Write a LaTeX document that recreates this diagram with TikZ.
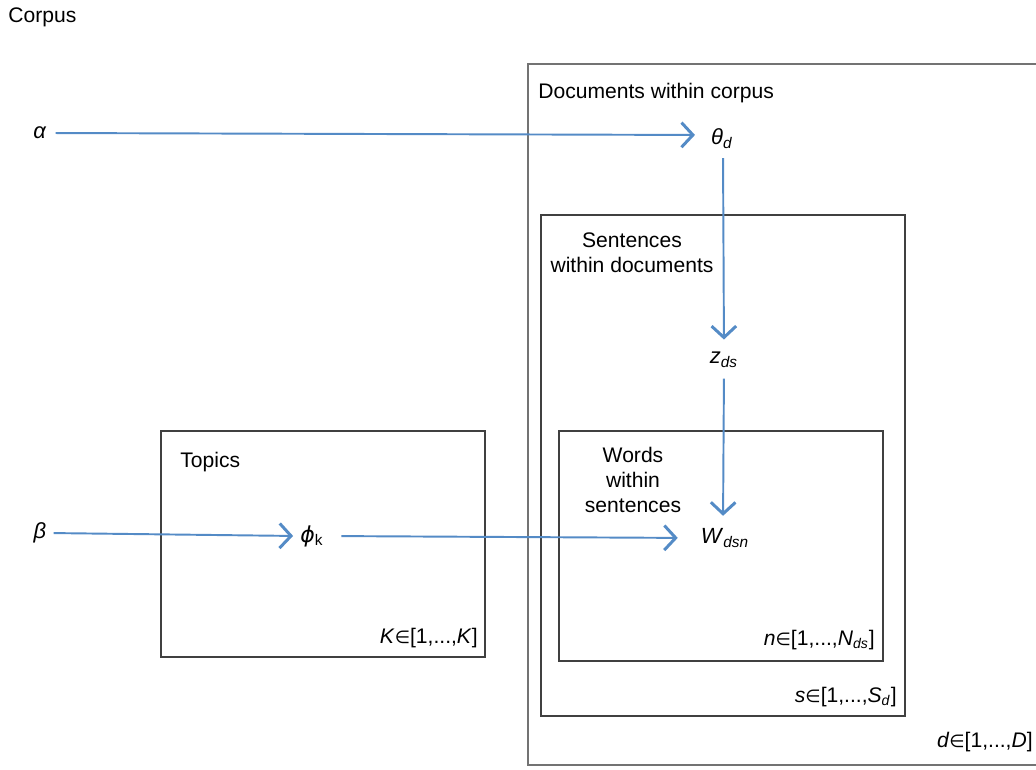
\documentclass[tikz,border=0pt]{standalone}
\usepackage{fontspec}
\setmainfont{Liberation Sans}
\newfontfamily\symfont{DejaVu Sans}
\usetikzlibrary{arrows.meta}
\definecolor{flowblue}{RGB}{84,139,198}
\newcommand{\isin}{{\symfont\fontsize{10}{11}\selectfont ∈}}
\begin{document}
\begin{tikzpicture}[x=0.02cm, y=-0.02cm, font=\fontsize{12}{14.4}\selectfont,
    plate/.style={draw=black!75, line width=0.6pt},
    flow/.style={draw=flowblue, line width=1.1pt,
        -{Straight Barb[length=6.5pt, width=14pt, line width=1.7pt]}},
    var/.style={inner sep=1pt, font=\fontsize{12.5}{14}\selectfont},
    rangelbl/.style={anchor=east, inner sep=0pt}]

        \useasboundingbox (0, 0) rectangle (1036, 769);

        % plates
        \draw[plate, draw=black!55, line width=1.1pt] (528, 64) rectangle (1045, 765);
        \draw[plate] (541, 215) rectangle (905, 716);
        \draw[plate] (559, 431) rectangle (883, 661);
        \draw[plate] (161, 431) rectangle (485, 657);

        % plate titles
        \node (corpus) at (8, 17) [anchor=west, inner sep=0pt] {Corpus};
        \node (docs) at (538, 93) [anchor=west, inner sep=0pt] {Documents within corpus};
        \node (sents) at (632, 253) [align=center, inner sep=0pt] {Sentences\\within documents};
        \node (words) at (633, 480) [align=center, inner sep=0pt] {Words\\within\\sentences};
        \node (topics) at (180, 462) [anchor=west, inner sep=0pt] {Topics};

        % ranges
        \node (Krange) at (478, 638) [rangelbl] {\textit{K}\isin[1,...,\textit{K}]};
        \node (nrange) at (875, 640) [rangelbl] {\textit{n}\isin[1,...,\textit{N}\textsubscript{\textit{ds}}]};
        \node (srange) at (897, 697) [rangelbl] {\textit{s}\isin[1,...,\textit{S}\textsubscript{\textit{d}}]};
        \node (drange) at (1033, 742) [rangelbl] {\textit{d}\isin[1,...,\textit{D}]};

        % variables
        \node (alpha) at (40, 133) [var] {\textit{α}};
        \node (beta) at (40, 533) [var] {\textit{β}};
        \node (theta) at (722, 139) [var] {\textit{θ}\textsubscript{\textit{d}}};
        \node (zds) at (724, 360) [var] {\textit{z}\textsubscript{\textit{ds}}};
        \node (wdsn) at (725, 538) [var] {\textit{W}\textsubscript{\textit{dsn}}};
        \node (phi) at (312, 536) [var] {{\symfont\itshape ϕ}\textsubscript{k}};

        \draw[flow, shorten <=4pt, shorten >=8pt] (alpha.east) -- ([yshift=0.08cm]theta.west);
        \draw[flow, shorten <=4pt, shorten >=6pt] ([xshift=0.02cm]theta.south) -- (zds.north);
        \draw[flow, shorten <=5pt, shorten >=6pt] (zds.south) -- ([xshift=-0.04cm]wdsn.north);

        \draw[flow, shorten <=3pt, shorten >=3pt] (beta.east) -- (phi.west);
        \draw[flow, shorten <=9pt, shorten >=12pt] (phi.east) -- (wdsn.west);

    \end{tikzpicture}
\end{document}
